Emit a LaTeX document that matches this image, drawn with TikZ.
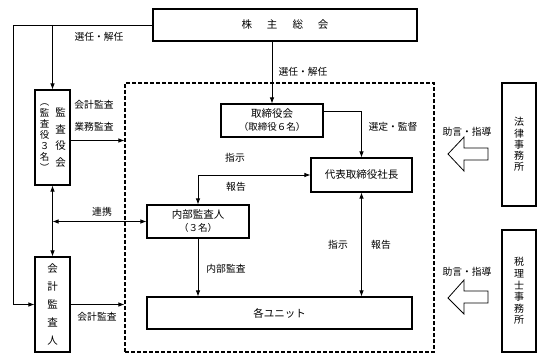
\documentclass[tikz,border=0pt]{standalone}
\usepackage{fontspec}
\setmainfont{Noto Sans CJK JP}
\usetikzlibrary{arrows.meta}

\begin{document}
\begin{tikzpicture}[x=1pt, y=-1pt,
    box/.style={draw, line width=1.1pt, inner sep=0pt, align=center, font=\fontsize{10.5}{13}\selectfont},
    lbl/.style={font=\fontsize{9.8}{11}\selectfont},
    arr/.style={line width=0.8pt, -{Latex[length=6pt,width=4.5pt]}},
    arrs/.style={line width=0.8pt, {Latex[length=6pt,width=4.5pt]}-{Latex[length=6pt,width=4.5pt]}},
    hollow/.style={draw, line width=0.8pt, fill=white, line join=miter}]
    \useasboundingbox (0,0) rectangle (545,358);

    \node[draw, dashed, line width=1.1pt, dash pattern=on 4pt off 2pt, minimum width=309pt, minimum height=269pt] (grp) at (279.5,217.5) {};

    \node[box, minimum width=264pt, minimum height=32pt] (sh) at (285,25) {株\hspace{15pt}主\hspace{15pt}総\hspace{15pt}会};
    \node[box, minimum width=35pt, minimum height=95pt] (kansa) at (52.5,137.5)
        {\parbox[c]{11pt}{\centering\fontsize{9.5}{11}\selectfont ︵\\監\\査\\役\\３\\名\\︶}\hspace{5pt}\parbox[c]{11pt}{\centering\fontsize{10.5}{16.5}\selectfont 監\\査\\役\\会}};
    \node[box, minimum width=35pt, minimum height=95pt, font=\fontsize{10.5}{18}\selectfont] (kaikei) at (52.5,304.5) {会\\計\\監\\査\\人};
    \node[box, minimum width=102pt, minimum height=33pt] (tori) at (272,120.5) {取締役会\\{\fontsize{9.5}{11}\selectfont （取締役６名）}};
    \node[box, minimum width=101pt, minimum height=34pt] (shacho) at (361.5,175) {代表取締役社長};
    \node[box, minimum width=102pt, minimum height=33pt] (naibu) at (198,221.5) {内部監査人\\{\fontsize{9.5}{11}\selectfont （３名）}};
    \node[box, minimum width=265pt, minimum height=32pt] (unit) at (279.5,313) {各ユニット};
    \node[box, minimum width=34pt, minimum height=123pt, font=\fontsize{10}{11.2}\selectfont] (houritsu) at (519,144.5) {法\\律\\事\\務\\所};
    \node[box, minimum width=34pt, minimum height=122pt, font=\fontsize{10}{11.6}\selectfont] (zeiri) at (519,291) {税\\理\\士\\事\\務\\所};

    \coordinate (lft) at (13,0);
    \draw[arr] (sh.west) -| (lft |- kaikei.west) -- (kaikei.west);
    \draw[arr] (kansa.north |- sh.west) -- (kansa.north);
    \draw[arrs] (kansa.south) -- (kaikei.north);
    \draw[arrs] (kansa.south |- naibu.west) -- (naibu.west);
    \draw[arr] ([yshift=-3pt]kansa.east) -- ([yshift=-3pt]kansa.east -| grp.west);
    \draw[arr] (kaikei.east) -- (kaikei.east -| grp.west);
    \draw[arr] (tori.north |- sh.south) -- (tori.north);
    \draw[arr] ([yshift=9pt]tori.east) -| (shacho.north);
    \draw[arrs] (shacho.west) -| (naibu.north);
    \draw[arr] (naibu.south) -- (naibu.south |- unit.north);
    \draw[arrs] (shacho.south) -- (shacho.south |- unit.north);

    \coordinate (h1) at (448,154);
    \coordinate (h2) at (448,298);
    \draw[hollow] (h1) -- ++(16,-17) -- ++(0,11) -- ++(24,0) -- ++(0,12) -- ++(-24,0) -- ++(0,11) -- cycle;
    \draw[hollow] (h2) -- ++(16,-18) -- ++(0,11) -- ++(24,0) -- ++(0,12) -- ++(-24,0) -- ++(0,11) -- cycle;

    \node[lbl] (l1) at (99,37) {選任・解任};
    \node[lbl] (l2) at (303,72) {選任・解任};
    \node[lbl] (l3) at (94,105) {会計監査};
    \node[lbl] (l4) at (94,127) {業務監査};
    \node[lbl] (l5) at (393,127) {選定・監督};
    \node[lbl] (l6) at (235,158) {指示};
    \node[lbl] (l7) at (236,187) {報告};
    \node[lbl] (l8) at (102,212) {連携};
    \node[lbl] (l9) at (226,269) {内部監査};
    \node[lbl] (l10) at (97,317) {会計監査};
    \node[lbl] (l11) at (338,245) {指示};
    \node[lbl] (l12) at (381,245) {報告};
    \node[lbl] (l13) at (467,132) {助言・指導};
    \node[lbl] (l14) at (467,272) {助言・指導};
\end{tikzpicture}
\end{document}
